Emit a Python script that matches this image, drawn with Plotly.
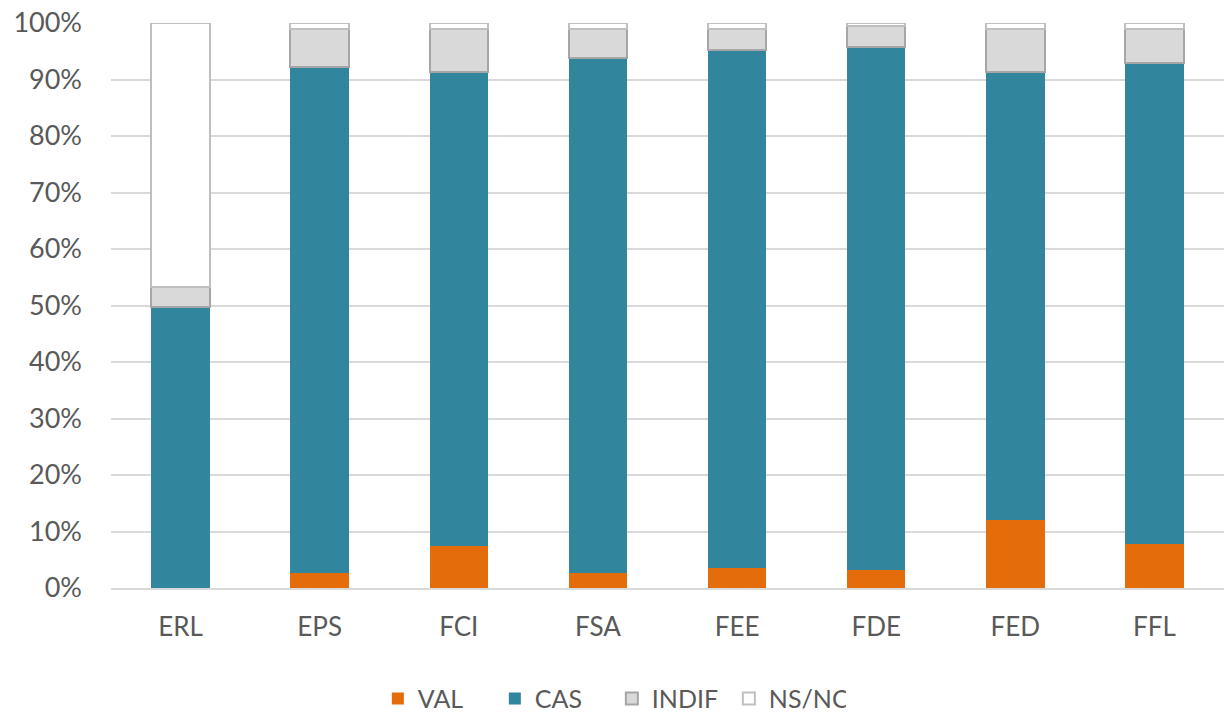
import plotly.graph_objects as go

categories = ["ERL", "EPS", "FCI", "FSA", "FEE", "FDE", "FED", "FFL"]
val = [0.0, 2.7, 7.4, 2.7, 3.5, 3.1, 12.1, 7.8]
cas = [49.8, 89.6, 84.0, 91.1, 91.8, 92.6, 79.3, 85.1]
indif = [3.5, 6.7, 7.6, 5.2, 3.7, 3.8, 7.6, 6.1]
nsnc = [46.7, 1.0, 1.0, 1.0, 1.0, 0.5, 1.0, 1.0]
y_ticks = [0, 10, 20, 30, 40, 50, 60, 70, 80, 90, 100]

fig = go.Figure()
fig.add_bar(name="VAL", x=categories, y=val, marker=dict(color="#E46C0A", line=dict(width=0)))
fig.add_bar(name="CAS", x=categories, y=cas, marker=dict(color="#31859C", line=dict(width=0)))
fig.add_bar(name="INDIF", x=categories, y=indif,
            marker=dict(color="#D9D9D9", line=dict(color="#A6A6A6", width=2)))
fig.add_bar(name="NS/NC", x=categories, y=nsnc,
            marker=dict(color="#FFFFFF", line=dict(color="#BFBFBF", width=2)))

fig.update_layout(
    barmode="stack",
    bargap=0.58,
    width=1226, height=713,
    margin=dict(l=111, r=2, t=23, b=125, autoexpand=False),
    paper_bgcolor="white", plot_bgcolor="white",
    font=dict(family="Lato, Liberation Sans, Arial, sans-serif", size=26, color="#595959"),
    legend=dict(orientation="h", x=0.45, xanchor="center", y=-0.196, yanchor="middle",
                font=dict(size=25, color="#595959"), traceorder="normal",
                itemwidth=30, entrywidth=72, entrywidthmode="pixels"),
    showlegend=True,
)
fig.update_yaxes(range=[0, 100], tickvals=y_ticks, ticktext=[f"{v}%" for v in y_ticks],
                 showgrid=True, gridcolor="#D9D9D9", gridwidth=1.5, automargin=False,
                 zeroline=False, showline=False, ticks="", ticklabelstandoff=28,
                 tickfont=dict(size=27, color="#595959"))
fig.update_xaxes(showline=True, linecolor="#D9D9D9", linewidth=1.5, ticks="", automargin=False,
                 tickfont=dict(size=26, color="#595959"), ticklabelstandoff=15)

fig.write_html("out.html", config={"displayModeBar": False})

with open("out.html", "r", encoding="utf-8") as f:
    html = f.read()
html = html.replace("<body>", '<body style="margin:0;padding:0;overflow:hidden">', 1)
with open("out.html", "w", encoding="utf-8") as f:
    f.write(html)
